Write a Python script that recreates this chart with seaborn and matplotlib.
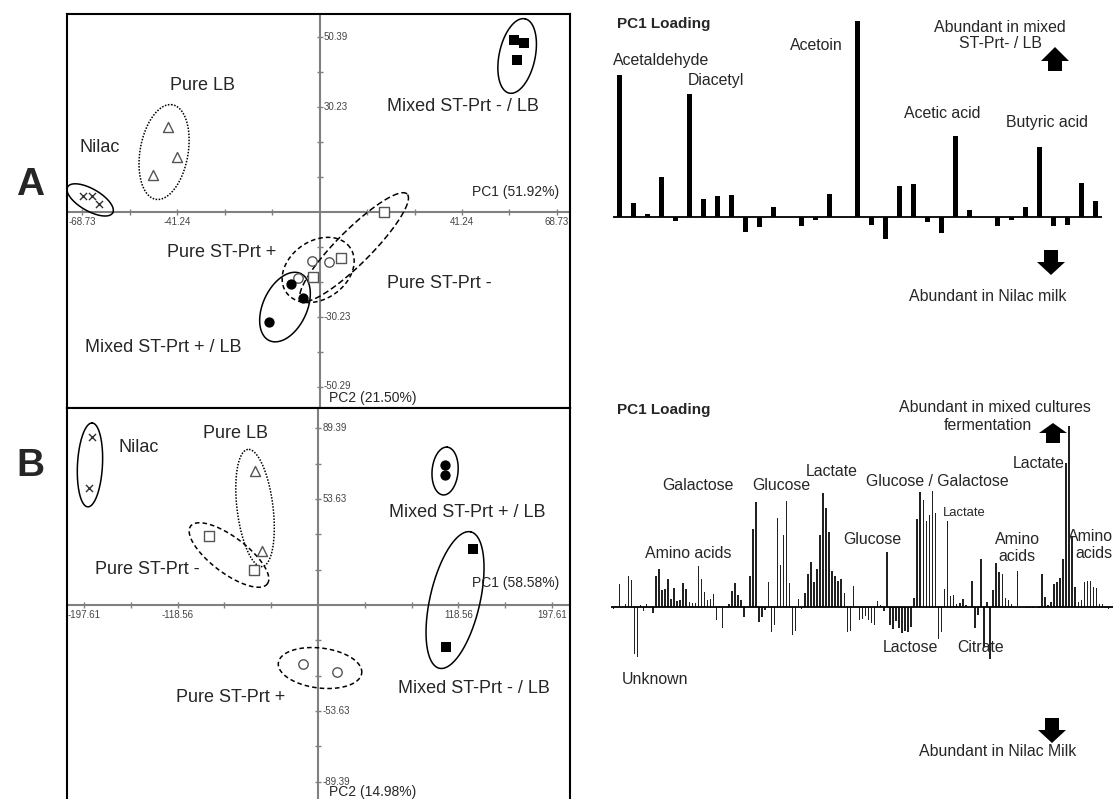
import numpy as np
import pandas as pd
import matplotlib
matplotlib.use("Agg")
import matplotlib.pyplot as plt
import seaborn as sns
from matplotlib.patches import Polygon

# ---------------------------------------------------------------
# data: PCA scores (panel A = volatiles, panel B = NMR)
# ---------------------------------------------------------------
groups = ["Nilac", "Pure LB", "Pure ST-Prt -", "Pure ST-Prt +",
          "Mixed ST-Prt + / LB", "Mixed ST-Prt - / LB"]

a_pc1 = {
    "Nilac": [-68.5, -65.8, -63.8],
    "Pure LB": [-43.8, -41.2, -48.2],
    "Pure ST-Prt -": [18.7, 6.2, -1.9],
    "Pure ST-Prt +": [-2.2, 2.7, -6.2],
    "Mixed ST-Prt + / LB": [-8.2, -4.8, -14.6],
    "Mixed ST-Prt - / LB": [56.3, 59.2, 57.2],
}
a_pc2 = {
    "Nilac": [4.6, 4.6, 2.3],
    "Pure LB": [24.5, 15.9, 10.7],
    "Pure ST-Prt -": [0.0, -13.3, -18.7],
    "Pure ST-Prt +": [-14.1, -14.4, -19.0],
    "Mixed ST-Prt + / LB": [-20.7, -24.8, -31.7],
    "Mixed ST-Prt - / LB": [49.6, 48.7, 43.8],
}
b_pc1 = {
    "Nilac": [-190.9, -193.4],
    "Pure LB": [-53.2, -47.3],
    "Pure ST-Prt -": [-92.0, -54.0],
    "Pure ST-Prt +": [-12.7, 16.0],
    "Mixed ST-Prt + / LB": [107.3, 107.3],
    "Mixed ST-Prt - / LB": [130.9, 108.1],
}
b_pc2 = {
    "Nilac": [85.1, 59.2],
    "Pure LB": [67.8, 27.3],
    "Pure ST-Prt -": [34.9, 17.7],
    "Pure ST-Prt +": [-29.9, -33.9],
    "Mixed ST-Prt + / LB": [70.9, 65.8],
    "Mixed ST-Prt - / LB": [28.4, -21.3],
}

a_xticks = [-68.73, -41.24, 41.24, 68.73]
a_yticks = [50.39, 30.23, -30.23, -50.29]
b_xticks = [-197.61, -118.56, 118.56, 197.61]
b_yticks = [89.39, 53.63, -53.63, -89.39]

# PC1 loadings (A: volatile compounds, B: NMR buckets)
a_loadings = [0.424, 0.042, 0.008, 0.119, -0.012, 0.370, 0.053, 0.064, 0.067,
              -0.045, -0.031, 0.031, 0.0, -0.027, -0.008, 0.070, 0.0, 0.587,
              -0.024, -0.066, 0.092, 0.100, -0.015, -0.049, 0.242, 0.021, 0.0,
              -0.027, -0.010, 0.029, 0.209, -0.027, -0.024, 0.101, 0.049]

b_loadings = [
    -8, 0, 67, 0, 8, 91, 79, -143, -152, 4,
    -12, 8, 0, -20, 91, 112, 50, 52, 83, 23,
    56, 17, 19, 70, 53, 14, 11, 11, 122, 82,
    43, 21, 23, 39, -40, 2, -64, 0, 7, 46,
    70, 35, 20, -30, 0, 93, 232, 314, -46, -32,
    -10, 73, -77, -54, 265, 124, 216, 317, 71, -84,
    -74, 22, -6, 40, 98, 133, 73, 114, 214, 340,
    295, 225, 108, 91, 78, 83, 40, -77, -72, 62,
    0, -39, -37, -28, -41, -50, -54, 17, 6, -14,
    163, -54, -68, -44, -65, -80, -74, -77, -60, 25,
    262, 345, 320, 258, 274, 348, 282, -96, -76, 52,
    257, 32, 35, 8, 11, 24, 5, 0, 77, -65,
    -26, 142, -120, 14, -156, 50, 132, 104, 99, 27,
    19, 8, 0, 108, 0, 0, -4, -4, -4, 0,
    -4, 98, 28, 6, 15, 69, 73, 87, 142, 430,
    542, 210, 60, 15, 19, 73, 77, 78, 60, 57,
    7, 8, -4, -6]
b_loadings = [v / 1000 for v in b_loadings]

# ---------------------------------------------------------------
# styling
# ---------------------------------------------------------------
sns.set_style("white")
plt.rcParams["font.family"] = ["Liberation Sans", "DejaVu Sans"]

W, H = 1115, 799


def box(l, t, r, b):
    return [l / W, 1 - b / H, (r - l) / W, (b - t) / H]


def ftext(x, y, s, **kw):
    kw.setdefault("va", "center")
    fig.text(x / W, 1 - y / H, s, **kw)


def block_arrow(xc, tip, base, end):
    # fat black arrow, coordinates in image pixels
    hw, sw = 14, 7
    pts = [(xc, tip), (xc - hw, base), (xc - sw, base), (xc - sw, end),
           (xc + sw, end), (xc + sw, base), (xc + hw, base)]
    pts = [(x / W, 1 - y / H) for x, y in pts]
    fig.patches.append(Polygon(pts, closed=True, transform=fig.transFigure,
                               facecolor="black", edgecolor="none"))


def outline(ax, cx, cy, w, h, ang, ls):
    # ellipse around a cluster; size (px) and angle given on screen
    t = np.linspace(0, 2 * np.pi, 300)
    a = np.deg2rad(ang)
    ex, ey = w / 2 * np.cos(t), h / 2 * np.sin(t)
    dx = ex * np.cos(a) - ey * np.sin(a)
    dy = ex * np.sin(a) + ey * np.cos(a)
    c = ax.transData.transform((cx, cy))
    pts = ax.transData.inverted().transform(np.column_stack([c[0] + dx, c[1] + dy]))
    ax.plot(pts[:, 0], pts[:, 1], color="black", lw=1.1, ls=ls)


STYLE = {
    "Nilac": dict(marker="x", s=26, color="#333333", edgecolor="#333333", linewidth=1.0),
    "Pure LB": dict(marker="^", s=52, facecolor="white", edgecolor="#555555", linewidth=1.0),
    "Pure ST-Prt -": dict(marker="s", s=58, facecolor="white", edgecolor="#555555", linewidth=1.0),
    "Pure ST-Prt +": dict(marker="o", s=46, facecolor="white", edgecolor="#555555", linewidth=1.0),
    "Mixed ST-Prt + / LB": dict(marker="o", s=55, color="black", linewidth=0),
    "Mixed ST-Prt - / LB": dict(marker="s", s=50, color="black", linewidth=0),
}

fig = plt.figure(figsize=(11.15, 7.99), dpi=100)


def score_panel(ax, pc1, pc2, xlim, ylim, xstep, ystep, xticks, yticks):
    for g in groups:
        sns.scatterplot(x=pc1[g], y=pc2[g], ax=ax, zorder=3, **STYLE[g])
    ax.set_xlim(*xlim)
    ax.set_ylim(*ylim)
    ax.set_autoscale_on(False)
    ax.set_xticks([])
    ax.set_yticks([])
    ax.set_xlabel("")
    ax.set_ylabel("")
    for sp in ax.spines.values():
        sp.set_color("black")
        sp.set_linewidth(1.5)
    ax.axhline(0, color="#808080", lw=1.5, zorder=1)
    ax.axvline(0, color="#808080", lw=1.5, zorder=1)
    k = np.arange(-5, 6)
    k = k[k != 0]
    ax.plot(k * xstep, np.zeros(len(k)), ls="none", marker="|", ms=5, mew=1,
            color="#808080", zorder=1)
    ax.plot(np.zeros(len(k)), k * ystep, ls="none", marker="_", ms=5, mew=1,
            color="#808080", zorder=1)
    for v in xticks:
        ax.annotate(f"{v:.2f}", (v, 0), xytext=(0, -3.5), textcoords="offset points",
                    ha="center", va="top", fontsize=7, color="#444444")
    for v in yticks:
        ax.annotate(f"{v:.2f}", (0, v), xytext=(3, 0), textcoords="offset points",
                    ha="left", va="center", fontsize=7, color="#444444")


# ---------------------------------------------------------------
# A: score plot
# ---------------------------------------------------------------
ax_a = fig.add_axes(box(67, 14, 570, 408))
score_panel(ax_a, a_pc1, a_pc2, (-73.1, 72.5), (-56.5, 57.1), 13.746, 10.078,
            a_xticks, a_yticks)
outline(ax_a, -66.4, 3.5, 52, 22, -30, "-")
outline(ax_a, -45.0, 17.3, 96, 48, 80, (0, (1, 1)))
outline(ax_a, 57.2, 45.0, 76, 36, 78, "-")
outline(ax_a, 10.0, -10.1, 150, 34, 45, (0, (4, 2)))
outline(ax_a, -0.4, -16.7, 78, 58, 35, (0, (3, 2)))
outline(ax_a, -10.0, -27.4, 74, 44, 65, "-")

lab = dict(fontsize=13, ha="center", va="center")
ax_a.text(-34.0, 36.6, "Pure LB", **lab)
ax_a.text(-63.5, 18.7, "Nilac", **lab)
ax_a.text(41.5, 30.3, "Mixed ST-Prt - / LB", **lab)
ax_a.text(-28.2, -11.8, "Pure ST-Prt +", **lab)
ax_a.text(34.6, -20.7, "Pure ST-Prt -", **lab)
ax_a.text(-45.3, -39.2, "Mixed ST-Prt + / LB", **lab)
ax_a.text(69.3, 5.8, "PC1 (51.92%)", fontsize=10, ha="right", va="center")
ax_a.text(2.7, -53.6, "PC2 (21.50%)", fontsize=10, ha="left", va="center")

# ---------------------------------------------------------------
# B: score plot
# ---------------------------------------------------------------
ax_b = fig.add_axes(box(67, 408, 570, 801))
score_panel(ax_b, b_pc1, b_pc2, (-212.0, 212.8), (-99.2, 99.7), 39.522, 17.878,
            b_xticks, b_yticks)
outline(ax_b, -192.6, 70.9, 84, 25, 87, "-")
outline(ax_b, -53.2, 49.1, 118, 36, 97, (0, (1, 1)))
outline(ax_b, -75.2, 25.3, 96, 36, -37, (0, (3, 2)))
outline(ax_b, 107.3, 67.8, 48, 26, 85, "-")
outline(ax_b, 115.7, 2.5, 140, 50, 77, "-")
outline(ax_b, 1.7, -31.9, 84, 40, -7, (0, (3, 2)))

ax_b.text(-151.2, 79.5, "Nilac", **lab)
ax_b.text(-69.3, 86.6, "Pure LB", **lab)
ax_b.text(125.8, 46.6, "Mixed ST-Prt + / LB", **lab)
ax_b.text(-144.4, 18.2, "Pure ST-Prt -", **lab)
ax_b.text(131.8, -42.5, "Mixed ST-Prt - / LB", **lab)
ax_b.text(-73.5, -46.6, "Pure ST-Prt +", **lab)
ax_b.text(203.5, 11.1, "PC1 (58.58%)", fontsize=10, ha="right", va="center")
ax_b.text(9.3, -94.7, "PC2 (14.98%)", fontsize=10, ha="left", va="center")

ftext(30, 185, "A", fontsize=28, fontweight="bold", ha="center")
ftext(30, 466, "B", fontsize=28, fontweight="bold", ha="center")

# ---------------------------------------------------------------
# A: PC1 loadings
# ---------------------------------------------------------------
ax_la = fig.add_axes(box(613, 10, 1102, 320))
sns.barplot(x=np.arange(len(a_loadings)), y=a_loadings, color="black", width=0.36,
            saturation=1, errorbar=None, linewidth=0, ax=ax_la)
ax_la.set_xlim(-0.45, 34.48)
ax_la.set_ylim(-0.308, 0.620)
ax_la.axhline(0, color="black", lw=1.3)
ax_la.axis("off")

txt = dict(fontsize=11.4, ha="left")
ftext(617, 24, "PC1 Loading", fontsize=11, fontweight="bold", ha="left")
ftext(613, 60, "Acetaldehyde", **txt)
ftext(688, 80, "Diacetyl", **txt)
ftext(790, 46, "Acetoin", **txt)
ftext(904, 113, "Acetic acid", **txt)
ftext(1006, 123, "Butyric acid", **txt)
ftext(1000, 35.5, "Abundant in mixed\nST-Prt- / LB", fontsize=11.4, ha="center",
      linespacing=1.1)
block_arrow(1055, 47, 61, 71)
block_arrow(1051, 275, 262, 250)
ftext(988, 296, "Abundant in Nilac milk", fontsize=11.4, ha="center")

# ---------------------------------------------------------------
# B: PC1 loadings
# ---------------------------------------------------------------
ax_lb = fig.add_axes(box(611, 405, 1113, 700))
sns.barplot(x=np.arange(len(b_loadings)), y=b_loadings, color="#222222", width=0.5,
            saturation=1, errorbar=None, linewidth=0, ax=ax_lb)
ax_lb.set_xlim(-0.757, 164.43)
ax_lb.set_ylim(-0.280, 0.605)
ax_lb.axhline(0, color="black", lw=1.3)
ax_lb.axis("off")

ftext(617, 410, "PC1 Loading", fontsize=11, fontweight="bold", ha="left")
ftext(995, 407, "Abundant in mixed cultures", fontsize=11.4, ha="center")
ftext(1032, 425, "fermentation", fontsize=11.4, ha="right")
block_arrow(1053, 423, 433, 443)
ftext(1013, 463, "Lactate", **txt)
ftext(662, 486, "Galactose", **txt)
ftext(752, 486, "Glucose", **txt)
ftext(806, 472, "Lactate", **txt)
ftext(866, 481, "Glucose / Galactose", **txt)
ftext(943, 513, "Lactate", fontsize=9.4, ha="left")
ftext(843, 539, "Glucose", **txt)
ftext(645, 553, "Amino acids", **txt)
ftext(1017, 548, "Amino\nacids", fontsize=11.4, ha="center")
ftext(1113, 545, "Amino\nacids", fontsize=11.4, ha="right", multialignment="right")
ftext(883, 648, "Lactose", **txt)
ftext(957, 648, "Citrate", **txt)
ftext(622, 680, "Unknown", **txt)
block_arrow(1052, 743, 730, 718)
ftext(998, 752, "Abundant in Nilac Milk", fontsize=11.4, ha="center")

fig.savefig("out.png", dpi=100)
